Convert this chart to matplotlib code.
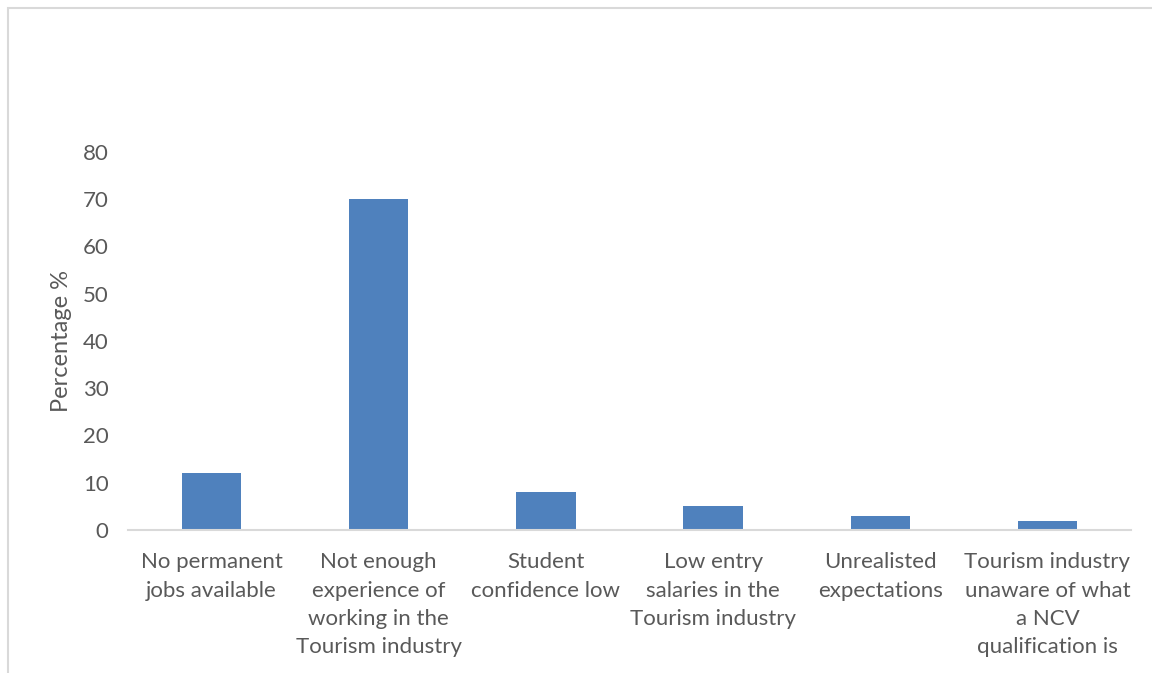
import matplotlib
matplotlib.use("Agg")
import matplotlib.pyplot as plt
from matplotlib.patches import Rectangle

categories = [
    "No permanent\njobs available",
    "Not enough\nexperience of\nworking in the\nTourism industry",
    "Student\nconfidence low",
    "Low entry\nsalaries in the\nTourism industry",
    "Unrealisted\nexpectations",
    "Tourism industry\nunaware of what\na NCV\nqualification is",
]
percentages = [12, 70, 8, 5, 3, 2]
y_ticks = [0, 10, 20, 30, 40, 50, 60, 70, 80]
y_label = "Percentage %"

BAR_COLOR = "#4f81bd"
TEXT_COLOR = "#595959"
AXIS_COLOR = "#d9d9d9"

plt.rcParams["font.family"] = ["Lato", "DejaVu Sans"]

fig = plt.figure(figsize=(11.52, 6.73), dpi=100)
fig.patch.set_facecolor("white")

# chart-area frame
fig.add_artist(Rectangle((8 / 1152, -0.01), 1.02, 1 - 8 / 673 + 0.01,
                         transform=fig.transFigure, fill=False,
                         edgecolor=AXIS_COLOR, linewidth=1.5))

ax = fig.add_axes([128 / 1152, 1 - 530 / 673, (1131 - 128) / 1152, (530 - 152) / 673])
x = range(len(categories))
ax.bar(x, percentages, width=0.355, color=BAR_COLOR, zorder=2)

ax.set_xlim(-0.5, len(categories) - 0.5)
ax.set_ylim(0, 80)
ax.set_yticks(y_ticks)
ax.set_xticks(list(x))
ax.set_xticklabels(categories, fontsize=16, color=TEXT_COLOR, linespacing=1.52)
ax.tick_params(axis="y", labelsize=16, labelcolor=TEXT_COLOR, length=0, pad=14)
ax.tick_params(axis="x", length=0, pad=16)

for side in ("top", "right", "left"):
    ax.spines[side].set_visible(False)
ax.spines["bottom"].set_color(AXIS_COLOR)
ax.spines["bottom"].set_linewidth(1.5)

ax.set_ylabel(y_label, fontsize=17, color=TEXT_COLOR, labelpad=8)

fig.savefig("out.png", dpi=100)
